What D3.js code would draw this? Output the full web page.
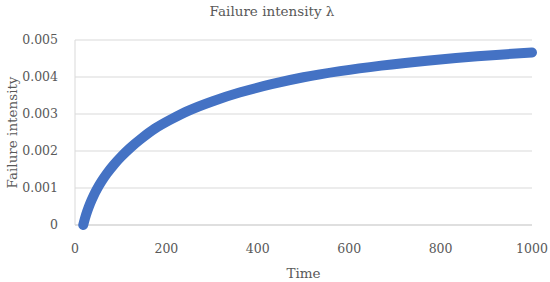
<!DOCTYPE html>
<html>
<head>
<meta charset="utf-8">
<script src="https://cdn.jsdelivr.net/npm/d3@7"></script>
<style>
  body { margin: 0; background: #fff; }
  text { font-family: "DejaVu Serif", "Liberation Serif", serif; fill: #595959; }
</style>
</head>
<body>
<svg id="chart" width="550" height="282"></svg>
<script>
// values
const times = [18, 22, 27, 33, 40, 48, 58, 70, 85, 100, 120, 145, 175, 210, 250, 300, 360, 430, 500, 580, 670, 770, 880, 1000];
const intensity = [0, 0.000184, 0.00038, 0.000579, 0.000776, 0.000969, 0.001178, 0.001395, 0.001629, 0.001834,
  0.002075, 0.002334, 0.002607, 0.002854, 0.003099, 0.00334, 0.00358, 0.003805, 0.003993, 0.004158,
  0.004307, 0.004441, 0.00456, 0.004662];
const xTicks = [0, 200, 400, 600, 800, 1000];
const yTicks = [0, 0.001, 0.002, 0.003, 0.004, 0.005];

const data = times.map((t, i) => ({ t, v: intensity[i] }));

const svg = d3.select('#chart');
const margin = { left: 75, right: 18, top: 40, bottom: 57 };
const width = 550, height = 282;

const x = d3.scaleLinear().domain([0, 1000]).range([margin.left, width - margin.right]);
const y = d3.scaleLinear().domain([0, 0.005]).range([height - margin.bottom, margin.top]);

// gridlines
svg.append('g')
  .selectAll('line')
  .data(yTicks.slice(1))
  .enter()
  .append('line')
  .attr('x1', x(0)).attr('x2', x(1000))
  .attr('y1', d => y(d)).attr('y2', d => y(d))
  .attr('stroke', '#d9d9d9').attr('stroke-width', 1);

// axis lines
svg.append('line')
  .attr('x1', x(0)).attr('x2', x(1000))
  .attr('y1', y(0)).attr('y2', y(0))
  .attr('stroke', '#bfbfbf').attr('stroke-width', 1);
svg.append('line')
  .attr('x1', x(0)).attr('x2', x(0))
  .attr('y1', y(0)).attr('y2', y(0.005))
  .attr('stroke', '#d9d9d9').attr('stroke-width', 1);

// tick labels
svg.append('g')
  .selectAll('text')
  .data(yTicks)
  .enter()
  .append('text')
  .attr('x', x(0) - 17)
  .attr('y', d => y(d))
  .attr('dy', '0.35em')
  .attr('text-anchor', 'end')
  .attr('font-size', '12.5px')
  .text(d => d === 0 ? '0' : d3.format('.3f')(d));

svg.append('g')
  .selectAll('text')
  .data(xTicks)
  .enter()
  .append('text')
  .attr('x', d => x(d))
  .attr('y', y(0) + 28)
  .attr('text-anchor', 'middle')
  .attr('font-size', '12.5px')
  .text(d => d);

// titles
svg.append('text')
  .attr('x', 272).attr('y', 16)
  .attr('text-anchor', 'middle')
  .attr('font-size', '13.5px')
  .text('Failure intensity λ');

svg.append('text')
  .attr('x', (x(0) + x(1000)) / 2).attr('y', 278)
  .attr('text-anchor', 'middle')
  .attr('font-size', '13.5px')
  .text('Time');

svg.append('text')
  .attr('transform', `translate(16.5,${(y(0) + y(0.005)) / 2}) rotate(-90)`)
  .attr('text-anchor', 'middle')
  .attr('font-size', '13.5px')
  .text('Failure intensity');

// the series (dense markers look like a thick line)
const line = d3.line().x(d => x(d.t)).y(d => y(d.v)).curve(d3.curveCatmullRom.alpha(0.5));
svg.append('path')
  .datum(data)
  .attr('d', line)
  .attr('fill', 'none')
  .attr('stroke', '#4472c4')
  .attr('stroke-width', 10)
  .attr('stroke-linecap', 'round')
  .attr('stroke-linejoin', 'round');
</script>
</body>
</html>
